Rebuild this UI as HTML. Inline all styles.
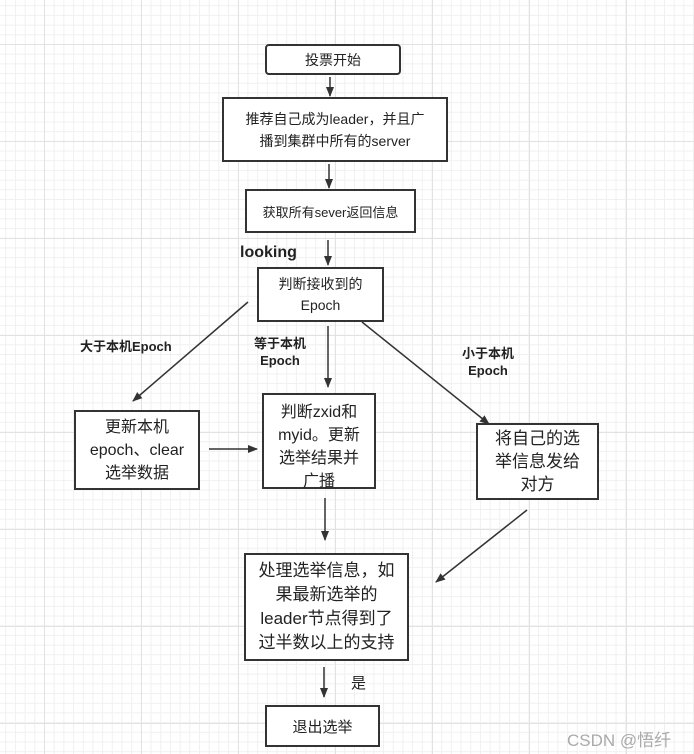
<!DOCTYPE html>
<html><head><meta charset="utf-8"><style>
body{margin:0;width:694px;height:754px;overflow:hidden;background:#fff;
background-image:linear-gradient(#e2e2e2 1px,transparent 1px),linear-gradient(90deg,#e2e2e2 1px,transparent 1px),linear-gradient(#f0f0f0 1px,transparent 1px),linear-gradient(90deg,#f0f0f0 1px,transparent 1px);
background-size:97px 97px,97px 97px,9.7px 9.7px,9.7px 9.7px;background-position:44px 44px,44px 44px,44px 44px,44px 44px;
font-family:"Liberation Sans","Noto Sans CJK SC",sans-serif;position:relative}
.b{position:absolute;border:2px solid #333;background:#fff;display:flex;align-items:center;justify-content:center;text-align:center;color:#222;box-sizing:border-box}
.t{position:absolute;font-weight:bold;color:#222;font-size:13px;text-align:center;line-height:17px}
svg{position:absolute;left:0;top:0}
</style></head><body>
<div class="b" style="left:265px;top:44px;width:136px;height:31px;border-radius:4px;font-size:14px">投票开始</div>
<div class="b" style="left:222px;top:97px;width:226px;height:65px;font-size:14px;line-height:22px">推荐自己成为leader，并且广<br>播到集群中所有的server</div>
<div class="b" style="left:245px;top:189px;width:171px;height:44px;font-size:13px">获取所有sever返回信息</div>
<div class="b" style="left:257px;top:267px;width:127px;height:55px;font-size:14px;line-height:21px">判断接收到的<br>Epoch</div>
<div class="b" style="left:74px;top:410px;width:126px;height:80px;font-size:16px;line-height:23px">更新本机<br>epoch、clear<br>选举数据</div>
<div class="b" style="left:262px;top:393px;width:114px;height:96px;font-size:16px;line-height:23px;align-items:flex-start;padding-top:6px">判断zxid和<br>myid。更新<br>选举结果并<br>广播</div>
<div class="b" style="left:476px;top:423px;width:123px;height:77px;font-size:17px;line-height:23px">将自己的选<br>举信息发给<br>对方</div>
<div class="b" style="left:244px;top:553px;width:165px;height:108px;font-size:17px;line-height:24px">处理选举信息，如<br>果最新选举的<br>leader节点得到了<br>过半数以上的支持</div>
<div class="b" style="left:265px;top:705px;width:115px;height:42px;font-size:15px">退出选举</div>
<div class="t" style="left:240px;top:244px;font-size:16px">looking</div>
<div class="t" style="left:80px;top:338px">大于本机Epoch</div>
<div class="t" style="left:254px;top:335px">等于本机<br>Epoch</div>
<div class="t" style="left:462px;top:345px">小于本机<br>Epoch</div>
<div style="position:absolute;left:351px;top:672px;font-size:15px;color:#222">是</div>
<div style="position:absolute;left:567px;top:726px;font-size:17px;color:#aaa">CSDN @悟纤</div>
<svg width="694" height="754"><defs><marker id="a" markerWidth="10" markerHeight="10" refX="9" refY="5" orient="auto" markerUnits="userSpaceOnUse"><path d="M0,1L10,5L0,9z" fill="#333"/></marker></defs>
<g stroke="#333" stroke-width="1.5" fill="none" marker-end="url(#a)">
<line x1="330" y1="77" x2="330" y2="96"/>
<line x1="329" y1="164" x2="329" y2="188"/>
<line x1="328" y1="240" x2="328" y2="265"/>
<line x1="248" y1="302" x2="133" y2="401"/>
<line x1="328" y1="326" x2="328" y2="387"/>
<line x1="362" y1="322" x2="489" y2="424"/>
<line x1="209" y1="449" x2="257" y2="449"/>
<line x1="325" y1="498" x2="325" y2="540"/>
<line x1="527" y1="510" x2="436" y2="582"/>
<line x1="324" y1="667" x2="324" y2="697"/>
</g></svg>
</body></html>
